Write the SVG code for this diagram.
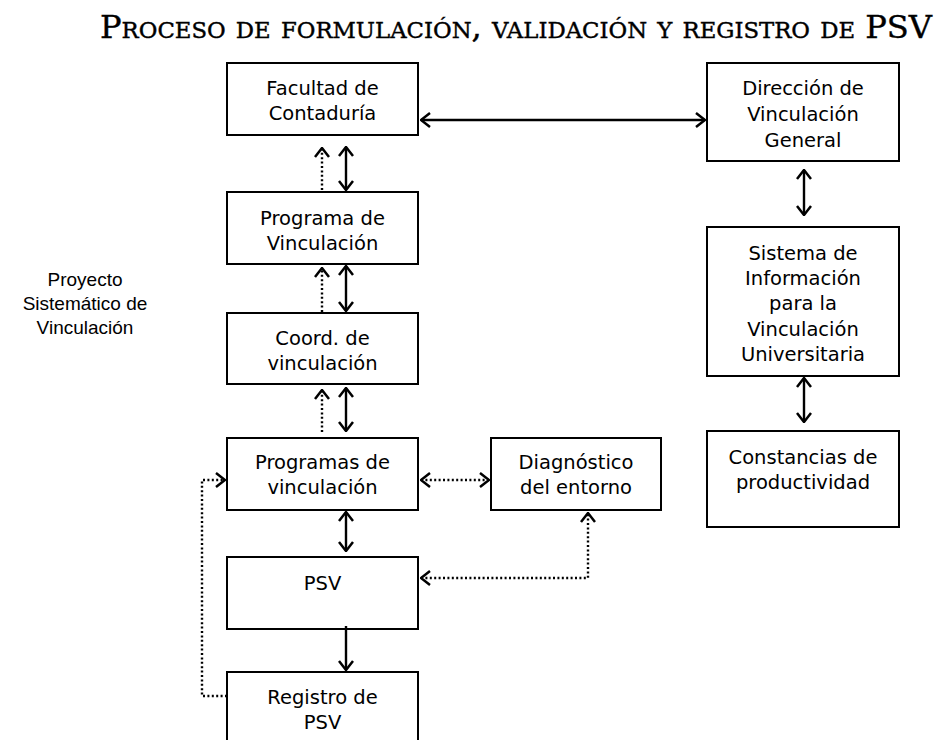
<svg xmlns="http://www.w3.org/2000/svg" width="938" height="740" viewBox="0 0 938 740">
<style>
.box{fill:#fff;stroke:#000;stroke-width:2}
.t{font-family:"DejaVu Sans",Verdana,sans-serif;font-size:19.5px;text-anchor:middle;fill:#000}
.side{font-family:"Liberation Sans",Arial,sans-serif;font-size:19px;text-anchor:middle;fill:#000}
.title{font-family:"DejaVu Serif","Liberation Serif",serif;font-size:31px;font-variant:small-caps;fill:#000;stroke:#000;stroke-width:0.4}
.s{fill:none;stroke:#000;stroke-width:2.4}
.d{fill:none;stroke:#000;stroke-width:2.4;stroke-dasharray:2 2.4}
</style>
<defs>
<marker id="ah" viewBox="0 0 11 16" refX="10" refY="8" markerWidth="11" markerHeight="16" markerUnits="userSpaceOnUse" orient="auto-start-reverse">
<path d="M1,1 L10,8 L1,15" fill="none" stroke="#000" stroke-width="2.5"/>
</marker>
</defs>
<rect width="938" height="740" fill="#fff"/>
<text class="title" x="100" y="38" textLength="832" lengthAdjust="spacingAndGlyphs">Proceso de formulación, validación y registro de PSV</text>
<text class="side" x="85"><tspan x="85" y="286">Proyecto</tspan><tspan x="85" y="310">Sistemático de</tspan><tspan x="85" y="334">Vinculación</tspan></text>

<g id="n-facultad"><rect class="box" x="227" y="63" width="191" height="72"/><text class="t"><tspan x="322.5" y="95">Facultad de</tspan><tspan x="322.5" y="120">Contaduría</tspan></text></g>
<g id="n-direccion"><rect class="box" x="707" y="63" width="192" height="98"/><text class="t"><tspan x="803" y="95">Dirección de</tspan><tspan x="803" y="121">Vinculación</tspan><tspan x="803" y="147">General</tspan></text></g>
<g id="n-programa"><rect class="box" x="227" y="192" width="191" height="72"/><text class="t"><tspan x="322.5" y="225">Programa de</tspan><tspan x="322.5" y="250">Vinculación</tspan></text></g>
<g id="n-coord"><rect class="box" x="227" y="313" width="191" height="71"/><text class="t"><tspan x="322.5" y="345">Coord. de</tspan><tspan x="322.5" y="370">vinculación</tspan></text></g>
<g id="n-programas"><rect class="box" x="227" y="438" width="191" height="72"/><text class="t"><tspan x="322.5" y="469">Programas de</tspan><tspan x="322.5" y="494">vinculación</tspan></text></g>
<g id="n-diagnostico"><rect class="box" x="491" y="438" width="170" height="72"/><text class="t"><tspan x="576" y="469">Diagnóstico</tspan><tspan x="576" y="494">del entorno</tspan></text></g>
<g id="n-psv"><rect class="box" x="227" y="557" width="191" height="72"/><text class="t" x="322.5" y="590">PSV</text></g>
<g id="n-registro"><path class="box" d="M227,745 V672 H418 V745"/><text class="t"><tspan x="322.5" y="704">Registro de</tspan><tspan x="322.5" y="729">PSV</tspan></text></g>
<g id="n-sistema"><rect class="box" x="707" y="227" width="192" height="149"/><text class="t"><tspan x="803" y="260">Sistema de</tspan><tspan x="803" y="285">Información</tspan><tspan x="803" y="310">para la</tspan><tspan x="803" y="336">Vinculación</tspan><tspan x="803" y="361">Universitaria</tspan></text></g>
<g id="n-constancias"><rect class="box" x="707" y="431" width="192" height="96"/><text class="t"><tspan x="803" y="464">Constancias de</tspan><tspan x="803" y="489">productividad</tspan></text></g>

<g id="connectors">
<line class="s" x1="421" y1="120" x2="705" y2="120" marker-start="url(#ah)" marker-end="url(#ah)"/>
<line class="s" x1="346" y1="147" x2="346" y2="190" marker-start="url(#ah)" marker-end="url(#ah)"/>
<line class="d" x1="322" y1="190" x2="322" y2="148" marker-end="url(#ah)"/>
<line class="s" x1="346" y1="266" x2="346" y2="311" marker-start="url(#ah)" marker-end="url(#ah)"/>
<line class="d" x1="322" y1="312" x2="322" y2="268" marker-end="url(#ah)"/>
<line class="s" x1="346" y1="388" x2="346" y2="431" marker-start="url(#ah)" marker-end="url(#ah)"/>
<line class="d" x1="322" y1="432" x2="322" y2="390" marker-end="url(#ah)"/>
<line class="s" x1="346" y1="512" x2="346" y2="551" marker-start="url(#ah)" marker-end="url(#ah)"/>
<line class="s" x1="346" y1="626" x2="346" y2="670" marker-end="url(#ah)"/>
<line class="d" x1="421" y1="480" x2="489" y2="480" marker-start="url(#ah)" marker-end="url(#ah)"/>
<polyline class="d" points="421,578 588,578 588,513" marker-start="url(#ah)" marker-end="url(#ah)"/>
<polyline class="d" points="227,696 202,696 202,480 225,480" marker-end="url(#ah)"/>
<line class="s" x1="804" y1="170" x2="804" y2="215" marker-start="url(#ah)" marker-end="url(#ah)"/>
<line class="s" x1="804" y1="378" x2="804" y2="422" marker-start="url(#ah)" marker-end="url(#ah)"/>
</g>
</svg>
